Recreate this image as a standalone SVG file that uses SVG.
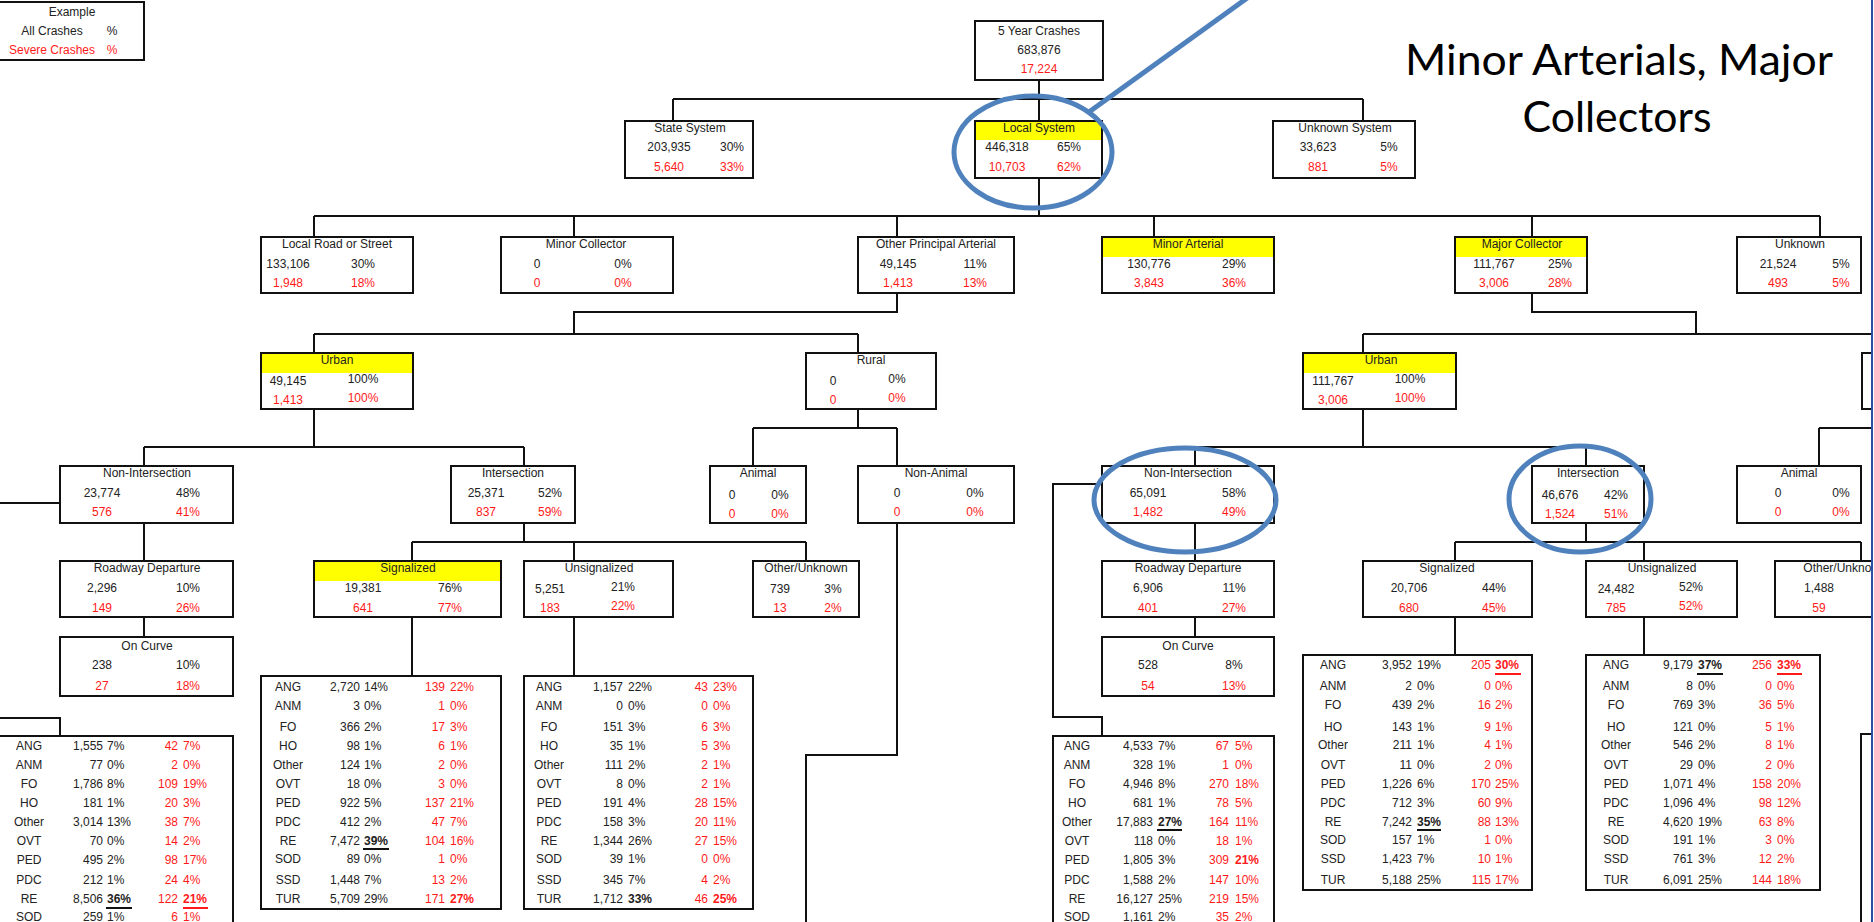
<svg xmlns="http://www.w3.org/2000/svg" width="1874" height="922" viewBox="0 0 1874 922">
<defs><clipPath id="slide"><rect x="0" y="0" width="1871" height="922"/></clipPath></defs>
<style>
.b{fill:#fff;stroke:#111;stroke-width:2}
.y{fill:#ffff00}
.t{font-family:"Liberation Sans",Arial,sans-serif;font-size:12px;fill:#222}
.m{text-anchor:middle}
.e{text-anchor:end}
.r{fill:#ff1a1a}
.k{font-weight:bold}
.c{fill:none;stroke:#111;stroke-width:2}
.u{stroke:#111;stroke-width:2}
.ur{stroke:#ff1a1a;stroke-width:2}
.blue{fill:none;stroke:#4f81bd;stroke-width:5}
.big{font-family:Lato,"Open Sans",sans-serif;font-size:42px;fill:#000;text-anchor:middle}
</style>
<rect width="1874" height="922" fill="#fff"/>
<g clip-path="url(#slide)">
<g id="connectors" class="c">
<path d="M1039,80V99 M673,99H1363 M673,99V121 M1039,99V121 M1363,99V121"/>
<path d="M1039,178V216 M314,216H1820 M314,216V237 M574,216V237 M897,216V237 M1154,216V237 M1532,216V237 M1820,216V237"/>
<path d="M897,293V312H574V334 M314,334H858 M314,334V353 M858,334V353"/>
<path d="M314,409V447 M144,447H524 M144,447V466 M524,447V466"/>
<path d="M858,409V428 M753,428H897 M753,428V466 M897,428V466"/>
<path d="M897,523V755H806V930"/>
<path d="M144,523V561 M144,617V637 M-5,503H60 M-5,718H60V736"/>
<path d="M524,523V542 M412,542H806 M412,542V561 M574,542V561 M806,542V561 M412,617V676 M574,617V676"/>
<path d="M1532,293V312H1696V334 M1363,334H1880 M1363,334V353"/>
<path d="M1363,409V447 M1195,447H1586 M1195,447V466 M1586,447V466 M1819,428H1880 M1819,428V466"/>
<path d="M1102,484H1053V717H1102V736 M1195,523V561 M1195,617V637"/>
<path d="M1586,523V542 M1455,542H1861 M1455,542V561 M1644,542V561 M1861,542V561 M1455,617V655 M1644,617V655"/>
</g>

<g id="example">
<rect class="b" x="-3" y="2" width="147" height="58"/>
<text class="t m" x="72" y="16">Example</text>
<text class="t m" x="52" y="35">All Crashes</text>
<text class="t m" x="112" y="35">%</text>
<text class="t m r" x="52" y="54">Severe Crashes</text>
<text class="t m r" x="112" y="54">%</text>
</g>

<g id="five-year">
<rect class="b" x="975" y="21" width="128" height="59"/>
<text class="t m" x="1039" y="35">5 Year Crashes</text>
<text class="t m" x="1039" y="54">683,876</text>
<text class="t m r" x="1039" y="73">17,224</text>
</g>

<g id="state-system">
<rect class="b" x="625" y="121" width="128" height="57"/>
<text class="t m" x="690" y="132">State System</text>
<text class="t m" x="669" y="151">203,935</text><text class="t m" x="732" y="151">30%</text>
<text class="t m r" x="669" y="171">5,640</text><text class="t m r" x="732" y="171">33%</text>
</g>
<g id="local-system">
<rect class="b" x="975" y="121" width="127" height="57"/>
<rect class="y" x="976" y="122" width="125" height="18"/>
<text class="t m" x="1039" y="132">Local System</text>
<text class="t m" x="1007" y="151">446,318</text><text class="t m" x="1069" y="151">65%</text>
<text class="t m r" x="1007" y="171">10,703</text><text class="t m r" x="1069" y="171">62%</text>
</g>
<g id="unknown-system">
<rect class="b" x="1273" y="121" width="142" height="57"/>
<text class="t m" x="1345" y="132">Unknown System</text>
<text class="t m" x="1318" y="151">33,623</text><text class="t m" x="1389" y="151">5%</text>
<text class="t m r" x="1318" y="171">881</text><text class="t m r" x="1389" y="171">5%</text>
</g>

<g id="local-road">
<rect class="b" x="261" y="237" width="152" height="56"/>
<text class="t m" x="337" y="248">Local Road or Street</text>
<text class="t m" x="288" y="268">133,106</text><text class="t m" x="363" y="268">30%</text>
<text class="t m r" x="288" y="287">1,948</text><text class="t m r" x="363" y="287">18%</text>
</g>
<g id="minor-collector">
<rect class="b" x="501" y="237" width="172" height="56"/>
<text class="t m" x="586" y="248">Minor Collector</text>
<text class="t m" x="537" y="268">0</text><text class="t m" x="623" y="268">0%</text>
<text class="t m r" x="537" y="287">0</text><text class="t m r" x="623" y="287">0%</text>
</g>
<g id="other-principal-arterial">
<rect class="b" x="858" y="237" width="156" height="56"/>
<text class="t m" x="936" y="248">Other Principal Arterial</text>
<text class="t m" x="898" y="268">49,145</text><text class="t m" x="975" y="268">11%</text>
<text class="t m r" x="898" y="287">1,413</text><text class="t m r" x="975" y="287">13%</text>
</g>
<g id="minor-arterial">
<rect class="b" x="1102" y="237" width="172" height="56"/>
<rect class="y" x="1103" y="238" width="170" height="19"/>
<text class="t m" x="1188" y="248">Minor Arterial</text>
<text class="t m" x="1149" y="268">130,776</text><text class="t m" x="1234" y="268">29%</text>
<text class="t m r" x="1149" y="287">3,843</text><text class="t m r" x="1234" y="287">36%</text>
</g>
<g id="major-collector">
<rect class="b" x="1455" y="237" width="132" height="56"/>
<rect class="y" x="1456" y="238" width="130" height="19"/>
<text class="t m" x="1522" y="248">Major Collector</text>
<text class="t m" x="1494" y="268">111,767</text><text class="t m" x="1560" y="268">25%</text>
<text class="t m r" x="1494" y="287">3,006</text><text class="t m r" x="1560" y="287">28%</text>
</g>
<g id="unknown">
<rect class="b" x="1737" y="237" width="124" height="56"/>
<text class="t m" x="1800" y="248">Unknown</text>
<text class="t m" x="1778" y="268">21,524</text><text class="t m" x="1841" y="268">5%</text>
<text class="t m r" x="1778" y="287">493</text><text class="t m r" x="1841" y="287">5%</text>
</g>

<g id="urban-left">
<rect class="b" x="261" y="353" width="152" height="56"/>
<rect class="y" x="262" y="354" width="150" height="19"/>
<text class="t m" x="337" y="364">Urban</text>
<text class="t m" x="288" y="385">49,145</text><text class="t m" x="363" y="383">100%</text>
<text class="t m r" x="288" y="404">1,413</text><text class="t m r" x="363" y="402">100%</text>
</g>
<g id="rural-left">
<rect class="b" x="806" y="353" width="130" height="56"/>
<text class="t m" x="871" y="364">Rural</text>
<text class="t m" x="833" y="385">0</text><text class="t m" x="897" y="383">0%</text>
<text class="t m r" x="833" y="404">0</text><text class="t m r" x="897" y="402">0%</text>
</g>
<g id="urban-right">
<rect class="b" x="1303" y="353" width="153" height="56"/>
<rect class="y" x="1304" y="354" width="151" height="19"/>
<text class="t m" x="1381" y="364">Urban</text>
<text class="t m" x="1333" y="385">111,767</text><text class="t m" x="1410" y="383">100%</text>
<text class="t m r" x="1333" y="404">3,006</text><text class="t m r" x="1410" y="402">100%</text>
</g>
<g id="rural-right">
<rect class="b" x="1862" y="353" width="150" height="56"/>
</g>

<g id="non-intersection-left">
<rect class="b" x="60" y="466" width="173" height="57"/>
<text class="t m" x="147" y="477">Non-Intersection</text>
<text class="t m" x="102" y="497">23,774</text><text class="t m" x="188" y="497">48%</text>
<text class="t m r" x="102" y="516">576</text><text class="t m r" x="188" y="516">41%</text>
</g>
<g id="intersection-left">
<rect class="b" x="451" y="466" width="124" height="57"/>
<text class="t m" x="513" y="477">Intersection</text>
<text class="t m" x="486" y="497">25,371</text><text class="t m" x="550" y="497">52%</text>
<text class="t m r" x="486" y="516">837</text><text class="t m r" x="550" y="516">59%</text>
</g>
<g id="animal-left">
<rect class="b" x="710" y="466" width="96" height="57"/>
<text class="t m" x="758" y="477">Animal</text>
<text class="t m" x="732" y="499">0</text><text class="t m" x="780" y="499">0%</text>
<text class="t m r" x="732" y="518">0</text><text class="t m r" x="780" y="518">0%</text>
</g>
<g id="non-animal">
<rect class="b" x="858" y="466" width="156" height="57"/>
<text class="t m" x="936" y="477">Non-Animal</text>
<text class="t m" x="897" y="497">0</text><text class="t m" x="975" y="497">0%</text>
<text class="t m r" x="897" y="516">0</text><text class="t m r" x="975" y="516">0%</text>
</g>
<g id="non-intersection-right">
<rect class="b" x="1102" y="466" width="172" height="57"/>
<text class="t m" x="1188" y="477">Non-Intersection</text>
<text class="t m" x="1148" y="497">65,091</text><text class="t m" x="1234" y="497">58%</text>
<text class="t m r" x="1148" y="516">1,482</text><text class="t m r" x="1234" y="516">49%</text>
</g>
<g id="intersection-right">
<rect class="b" x="1532" y="466" width="112" height="57"/>
<text class="t m" x="1588" y="477">Intersection</text>
<text class="t m" x="1560" y="499">46,676</text><text class="t m" x="1616" y="499">42%</text>
<text class="t m r" x="1560" y="518">1,524</text><text class="t m r" x="1616" y="518">51%</text>
</g>
<g id="animal-right">
<rect class="b" x="1737" y="466" width="124" height="57"/>
<text class="t m" x="1799" y="477">Animal</text>
<text class="t m" x="1778" y="497">0</text><text class="t m" x="1841" y="497">0%</text>
<text class="t m r" x="1778" y="516">0</text><text class="t m r" x="1841" y="516">0%</text>
</g>

<g id="roadway-departure-left">
<rect class="b" x="60" y="561" width="173" height="56"/>
<text class="t m" x="147" y="572">Roadway Departure</text>
<text class="t m" x="102" y="592">2,296</text><text class="t m" x="188" y="592">10%</text>
<text class="t m r" x="102" y="612">149</text><text class="t m r" x="188" y="612">26%</text>
</g>
<g id="signalized-left">
<rect class="b" x="314" y="561" width="187" height="56"/>
<rect class="y" x="315" y="562" width="185" height="19"/>
<text class="t m" x="408" y="572">Signalized</text>
<text class="t m" x="363" y="592">19,381</text><text class="t m" x="450" y="592">76%</text>
<text class="t m r" x="363" y="612">641</text><text class="t m r" x="450" y="612">77%</text>
</g>
<g id="unsignalized-left">
<rect class="b" x="524" y="561" width="149" height="56"/>
<text class="t m" x="599" y="572">Unsignalized</text>
<text class="t m" x="550" y="593">5,251</text><text class="t m" x="623" y="591">21%</text>
<text class="t m r" x="550" y="612">183</text><text class="t m r" x="623" y="610">22%</text>
</g>
<g id="other-unknown-left">
<rect class="b" x="753" y="561" width="106" height="56"/>
<text class="t m" x="806" y="572">Other/Unknown</text>
<text class="t m" x="780" y="593">739</text><text class="t m" x="833" y="593">3%</text>
<text class="t m r" x="780" y="612">13</text><text class="t m r" x="833" y="612">2%</text>
</g>
<g id="roadway-departure-right">
<rect class="b" x="1102" y="561" width="172" height="56"/>
<text class="t m" x="1188" y="572">Roadway Departure</text>
<text class="t m" x="1148" y="592">6,906</text><text class="t m" x="1234" y="592">11%</text>
<text class="t m r" x="1148" y="612">401</text><text class="t m r" x="1234" y="612">27%</text>
</g>
<g id="signalized-right">
<rect class="b" x="1363" y="561" width="169" height="56"/>
<text class="t m" x="1447" y="572">Signalized</text>
<text class="t m" x="1409" y="592">20,706</text><text class="t m" x="1494" y="592">44%</text>
<text class="t m r" x="1409" y="612">680</text><text class="t m r" x="1494" y="612">45%</text>
</g>
<g id="unsignalized-right">
<rect class="b" x="1586" y="561" width="151" height="56"/>
<text class="t m" x="1662" y="572">Unsignalized</text>
<text class="t m" x="1616" y="593">24,482</text><text class="t m" x="1691" y="591">52%</text>
<text class="t m r" x="1616" y="612">785</text><text class="t m r" x="1691" y="610">52%</text>
</g>
<g id="other-unknown-right">
<rect class="b" x="1775" y="561" width="170" height="56"/>
<text class="t m" x="1845" y="572">Other/Unknown</text>
<text class="t m" x="1819" y="592">1,488</text>
<text class="t m r" x="1819" y="612">59</text>
</g>

<g id="on-curve-left">
<rect class="b" x="60" y="637" width="173" height="59"/>
<text class="t m" x="147" y="650">On Curve</text>
<text class="t m" x="102" y="669">238</text><text class="t m" x="188" y="669">10%</text>
<text class="t m r" x="102" y="690">27</text><text class="t m r" x="188" y="690">18%</text>
</g>
<g id="on-curve-right">
<rect class="b" x="1102" y="637" width="172" height="59"/>
<text class="t m" x="1188" y="650">On Curve</text>
<text class="t m" x="1148" y="669">528</text><text class="t m" x="1234" y="669">8%</text>
<text class="t m r" x="1148" y="690">54</text><text class="t m r" x="1234" y="690">13%</text>
</g>

<g id="table-left">
<rect class="b" x="-10" y="736" width="243" height="200"/>
<g class="t">
<text class="m" x="29" y="750">ANG</text><text class="e" x="103" y="750">1,555</text><text x="107" y="750">7%</text><text class="e r" x="178" y="750">42</text><text class="r" x="183" y="750">7%</text>
<text class="m" x="29" y="769">ANM</text><text class="e" x="103" y="769">77</text><text x="107" y="769">0%</text><text class="e r" x="178" y="769">2</text><text class="r" x="183" y="769">0%</text>
<text class="m" x="29" y="788">FO</text><text class="e" x="103" y="788">1,786</text><text x="107" y="788">8%</text><text class="e r" x="178" y="788">109</text><text class="r" x="183" y="788">19%</text>
<text class="m" x="29" y="807">HO</text><text class="e" x="103" y="807">181</text><text x="107" y="807">1%</text><text class="e r" x="178" y="807">20</text><text class="r" x="183" y="807">3%</text>
<text class="m" x="29" y="826">Other</text><text class="e" x="103" y="826">3,014</text><text x="107" y="826">13%</text><text class="e r" x="178" y="826">38</text><text class="r" x="183" y="826">7%</text>
<text class="m" x="29" y="845">OVT</text><text class="e" x="103" y="845">70</text><text x="107" y="845">0%</text><text class="e r" x="178" y="845">14</text><text class="r" x="183" y="845">2%</text>
<text class="m" x="29" y="864">PED</text><text class="e" x="103" y="864">495</text><text x="107" y="864">2%</text><text class="e r" x="178" y="864">98</text><text class="r" x="183" y="864">17%</text>
<text class="m" x="29" y="884">PDC</text><text class="e" x="103" y="884">212</text><text x="107" y="884">1%</text><text class="e r" x="178" y="884">24</text><text class="r" x="183" y="884">4%</text>
<text class="m" x="29" y="903">RE</text><text class="e" x="103" y="903">8,506</text><text class="k" x="107" y="903">36%</text><text class="e r" x="178" y="903">122</text><text class="r k" x="183" y="903">21%</text>
<text class="m" x="29" y="921">SOD</text><text class="e" x="103" y="921">259</text><text x="107" y="921">1%</text><text class="e r" x="178" y="921">6</text><text class="r" x="183" y="921">1%</text>
</g>
<line class="u" x1="106" y1="908" x2="132" y2="908"/><line class="ur" x1="183" y1="908" x2="208" y2="908"/>
</g>

<g id="table-signalized-left">
<rect class="b" x="261" y="676" width="240" height="233"/>
<g class="t">
<text class="m" x="288" y="691">ANG</text><text class="e" x="360" y="691">2,720</text><text x="364" y="691">14%</text><text class="e r" x="445" y="691">139</text><text class="r" x="450" y="691">22%</text>
<text class="m" x="288" y="710">ANM</text><text class="e" x="360" y="710">3</text><text x="364" y="710">0%</text><text class="e r" x="445" y="710">1</text><text class="r" x="450" y="710">0%</text>
<text class="m" x="288" y="731">FO</text><text class="e" x="360" y="731">366</text><text x="364" y="731">2%</text><text class="e r" x="445" y="731">17</text><text class="r" x="450" y="731">3%</text>
<text class="m" x="288" y="750">HO</text><text class="e" x="360" y="750">98</text><text x="364" y="750">1%</text><text class="e r" x="445" y="750">6</text><text class="r" x="450" y="750">1%</text>
<text class="m" x="288" y="769">Other</text><text class="e" x="360" y="769">124</text><text x="364" y="769">1%</text><text class="e r" x="445" y="769">2</text><text class="r" x="450" y="769">0%</text>
<text class="m" x="288" y="788">OVT</text><text class="e" x="360" y="788">18</text><text x="364" y="788">0%</text><text class="e r" x="445" y="788">3</text><text class="r" x="450" y="788">0%</text>
<text class="m" x="288" y="807">PED</text><text class="e" x="360" y="807">922</text><text x="364" y="807">5%</text><text class="e r" x="445" y="807">137</text><text class="r" x="450" y="807">21%</text>
<text class="m" x="288" y="826">PDC</text><text class="e" x="360" y="826">412</text><text x="364" y="826">2%</text><text class="e r" x="445" y="826">47</text><text class="r" x="450" y="826">7%</text>
<text class="m" x="288" y="845">RE</text><text class="e" x="360" y="845">7,472</text><text class="k" x="364" y="845">39%</text><text class="e r" x="445" y="845">104</text><text class="r" x="450" y="845">16%</text>
<text class="m" x="288" y="863">SOD</text><text class="e" x="360" y="863">89</text><text x="364" y="863">0%</text><text class="e r" x="445" y="863">1</text><text class="r" x="450" y="863">0%</text>
<text class="m" x="288" y="884">SSD</text><text class="e" x="360" y="884">1,448</text><text x="364" y="884">7%</text><text class="e r" x="445" y="884">13</text><text class="r" x="450" y="884">2%</text>
<text class="m" x="288" y="903">TUR</text><text class="e" x="360" y="903">5,709</text><text x="364" y="903">29%</text><text class="e r" x="445" y="903">171</text><text class="r k" x="450" y="903">27%</text>
</g>
<line class="u" x1="363" y1="849" x2="389" y2="849"/>
</g>

<g id="table-unsignalized-left">
<rect class="b" x="524" y="676" width="229" height="233"/>
<g class="t">
<text class="m" x="549" y="691">ANG</text><text class="e" x="623" y="691">1,157</text><text x="628" y="691">22%</text><text class="e r" x="708" y="691">43</text><text class="r" x="713" y="691">23%</text>
<text class="m" x="549" y="710">ANM</text><text class="e" x="623" y="710">0</text><text x="628" y="710">0%</text><text class="e r" x="708" y="710">0</text><text class="r" x="713" y="710">0%</text>
<text class="m" x="549" y="731">FO</text><text class="e" x="623" y="731">151</text><text x="628" y="731">3%</text><text class="e r" x="708" y="731">6</text><text class="r" x="713" y="731">3%</text>
<text class="m" x="549" y="750">HO</text><text class="e" x="623" y="750">35</text><text x="628" y="750">1%</text><text class="e r" x="708" y="750">5</text><text class="r" x="713" y="750">3%</text>
<text class="m" x="549" y="769">Other</text><text class="e" x="623" y="769">111</text><text x="628" y="769">2%</text><text class="e r" x="708" y="769">2</text><text class="r" x="713" y="769">1%</text>
<text class="m" x="549" y="788">OVT</text><text class="e" x="623" y="788">8</text><text x="628" y="788">0%</text><text class="e r" x="708" y="788">2</text><text class="r" x="713" y="788">1%</text>
<text class="m" x="549" y="807">PED</text><text class="e" x="623" y="807">191</text><text x="628" y="807">4%</text><text class="e r" x="708" y="807">28</text><text class="r" x="713" y="807">15%</text>
<text class="m" x="549" y="826">PDC</text><text class="e" x="623" y="826">158</text><text x="628" y="826">3%</text><text class="e r" x="708" y="826">20</text><text class="r" x="713" y="826">11%</text>
<text class="m" x="549" y="845">RE</text><text class="e" x="623" y="845">1,344</text><text x="628" y="845">26%</text><text class="e r" x="708" y="845">27</text><text class="r" x="713" y="845">15%</text>
<text class="m" x="549" y="863">SOD</text><text class="e" x="623" y="863">39</text><text x="628" y="863">1%</text><text class="e r" x="708" y="863">0</text><text class="r" x="713" y="863">0%</text>
<text class="m" x="549" y="884">SSD</text><text class="e" x="623" y="884">345</text><text x="628" y="884">7%</text><text class="e r" x="708" y="884">4</text><text class="r" x="713" y="884">2%</text>
<text class="m" x="549" y="903">TUR</text><text class="e" x="623" y="903">1,712</text><text class="k" x="628" y="903">33%</text><text class="e r" x="708" y="903">46</text><text class="r k" x="713" y="903">25%</text>
</g>
</g>

<g id="table-non-intersection-right">
<rect class="b" x="1053" y="736" width="221" height="200"/>
<g class="t">
<text class="m" x="1077" y="750">ANG</text><text class="e" x="1153" y="750">4,533</text><text x="1158" y="750">7%</text><text class="e r" x="1229" y="750">67</text><text class="r" x="1235" y="750">5%</text>
<text class="m" x="1077" y="769">ANM</text><text class="e" x="1153" y="769">328</text><text x="1158" y="769">1%</text><text class="e r" x="1229" y="769">1</text><text class="r" x="1235" y="769">0%</text>
<text class="m" x="1077" y="788">FO</text><text class="e" x="1153" y="788">4,946</text><text x="1158" y="788">8%</text><text class="e r" x="1229" y="788">270</text><text class="r" x="1235" y="788">18%</text>
<text class="m" x="1077" y="807">HO</text><text class="e" x="1153" y="807">681</text><text x="1158" y="807">1%</text><text class="e r" x="1229" y="807">78</text><text class="r" x="1235" y="807">5%</text>
<text class="m" x="1077" y="826">Other</text><text class="e" x="1153" y="826">17,883</text><text class="k" x="1158" y="826">27%</text><text class="e r" x="1229" y="826">164</text><text class="r" x="1235" y="826">11%</text>
<text class="m" x="1077" y="845">OVT</text><text class="e" x="1153" y="845">118</text><text x="1158" y="845">0%</text><text class="e r" x="1229" y="845">18</text><text class="r" x="1235" y="845">1%</text>
<text class="m" x="1077" y="864">PED</text><text class="e" x="1153" y="864">1,805</text><text x="1158" y="864">3%</text><text class="e r" x="1229" y="864">309</text><text class="r k" x="1235" y="864">21%</text>
<text class="m" x="1077" y="884">PDC</text><text class="e" x="1153" y="884">1,588</text><text x="1158" y="884">2%</text><text class="e r" x="1229" y="884">147</text><text class="r" x="1235" y="884">10%</text>
<text class="m" x="1077" y="903">RE</text><text class="e" x="1153" y="903">16,127</text><text x="1158" y="903">25%</text><text class="e r" x="1229" y="903">219</text><text class="r" x="1235" y="903">15%</text>
<text class="m" x="1077" y="921">SOD</text><text class="e" x="1153" y="921">1,161</text><text x="1158" y="921">2%</text><text class="e r" x="1229" y="921">35</text><text class="r" x="1235" y="921">2%</text>
</g>
<line class="u" x1="1157" y1="830" x2="1182" y2="830"/>
</g>

<g id="table-signalized-right">
<rect class="b" x="1303" y="655" width="229" height="235"/>
<g class="t">
<text class="m" x="1333" y="669">ANG</text><text class="e" x="1412" y="669">3,952</text><text x="1417" y="669">19%</text><text class="e r" x="1491" y="669">205</text><text class="r k" x="1495" y="669">30%</text>
<text class="m" x="1333" y="690">ANM</text><text class="e" x="1412" y="690">2</text><text x="1417" y="690">0%</text><text class="e r" x="1491" y="690">0</text><text class="r" x="1495" y="690">0%</text>
<text class="m" x="1333" y="709">FO</text><text class="e" x="1412" y="709">439</text><text x="1417" y="709">2%</text><text class="e r" x="1491" y="709">16</text><text class="r" x="1495" y="709">2%</text>
<text class="m" x="1333" y="731">HO</text><text class="e" x="1412" y="731">143</text><text x="1417" y="731">1%</text><text class="e r" x="1491" y="731">9</text><text class="r" x="1495" y="731">1%</text>
<text class="m" x="1333" y="749">Other</text><text class="e" x="1412" y="749">211</text><text x="1417" y="749">1%</text><text class="e r" x="1491" y="749">4</text><text class="r" x="1495" y="749">1%</text>
<text class="m" x="1333" y="769">OVT</text><text class="e" x="1412" y="769">11</text><text x="1417" y="769">0%</text><text class="e r" x="1491" y="769">2</text><text class="r" x="1495" y="769">0%</text>
<text class="m" x="1333" y="788">PED</text><text class="e" x="1412" y="788">1,226</text><text x="1417" y="788">6%</text><text class="e r" x="1491" y="788">170</text><text class="r" x="1495" y="788">25%</text>
<text class="m" x="1333" y="807">PDC</text><text class="e" x="1412" y="807">712</text><text x="1417" y="807">3%</text><text class="e r" x="1491" y="807">60</text><text class="r" x="1495" y="807">9%</text>
<text class="m" x="1333" y="826">RE</text><text class="e" x="1412" y="826">7,242</text><text class="k" x="1417" y="826">35%</text><text class="e r" x="1491" y="826">88</text><text class="r" x="1495" y="826">13%</text>
<text class="m" x="1333" y="844">SOD</text><text class="e" x="1412" y="844">157</text><text x="1417" y="844">1%</text><text class="e r" x="1491" y="844">1</text><text class="r" x="1495" y="844">0%</text>
<text class="m" x="1333" y="863">SSD</text><text class="e" x="1412" y="863">1,423</text><text x="1417" y="863">7%</text><text class="e r" x="1491" y="863">10</text><text class="r" x="1495" y="863">1%</text>
<text class="m" x="1333" y="884">TUR</text><text class="e" x="1412" y="884">5,188</text><text x="1417" y="884">25%</text><text class="e r" x="1491" y="884">115</text><text class="r" x="1495" y="884">17%</text>
</g>
<line class="u" x1="1417" y1="830" x2="1441" y2="830"/><line class="ur" x1="1495" y1="674" x2="1521" y2="674"/>
</g>

<g id="table-unsignalized-right">
<rect class="b" x="1586" y="655" width="234" height="235"/>
<g class="t">
<text class="m" x="1616" y="669">ANG</text><text class="e" x="1693" y="669">9,179</text><text class="k" x="1698" y="669">37%</text><text class="e r" x="1772" y="669">256</text><text class="r k" x="1777" y="669">33%</text>
<text class="m" x="1616" y="690">ANM</text><text class="e" x="1693" y="690">8</text><text x="1698" y="690">0%</text><text class="e r" x="1772" y="690">0</text><text class="r" x="1777" y="690">0%</text>
<text class="m" x="1616" y="709">FO</text><text class="e" x="1693" y="709">769</text><text x="1698" y="709">3%</text><text class="e r" x="1772" y="709">36</text><text class="r" x="1777" y="709">5%</text>
<text class="m" x="1616" y="731">HO</text><text class="e" x="1693" y="731">121</text><text x="1698" y="731">0%</text><text class="e r" x="1772" y="731">5</text><text class="r" x="1777" y="731">1%</text>
<text class="m" x="1616" y="749">Other</text><text class="e" x="1693" y="749">546</text><text x="1698" y="749">2%</text><text class="e r" x="1772" y="749">8</text><text class="r" x="1777" y="749">1%</text>
<text class="m" x="1616" y="769">OVT</text><text class="e" x="1693" y="769">29</text><text x="1698" y="769">0%</text><text class="e r" x="1772" y="769">2</text><text class="r" x="1777" y="769">0%</text>
<text class="m" x="1616" y="788">PED</text><text class="e" x="1693" y="788">1,071</text><text x="1698" y="788">4%</text><text class="e r" x="1772" y="788">158</text><text class="r" x="1777" y="788">20%</text>
<text class="m" x="1616" y="807">PDC</text><text class="e" x="1693" y="807">1,096</text><text x="1698" y="807">4%</text><text class="e r" x="1772" y="807">98</text><text class="r" x="1777" y="807">12%</text>
<text class="m" x="1616" y="826">RE</text><text class="e" x="1693" y="826">4,620</text><text x="1698" y="826">19%</text><text class="e r" x="1772" y="826">63</text><text class="r" x="1777" y="826">8%</text>
<text class="m" x="1616" y="844">SOD</text><text class="e" x="1693" y="844">191</text><text x="1698" y="844">1%</text><text class="e r" x="1772" y="844">3</text><text class="r" x="1777" y="844">0%</text>
<text class="m" x="1616" y="863">SSD</text><text class="e" x="1693" y="863">761</text><text x="1698" y="863">3%</text><text class="e r" x="1772" y="863">12</text><text class="r" x="1777" y="863">2%</text>
<text class="m" x="1616" y="884">TUR</text><text class="e" x="1693" y="884">6,091</text><text x="1698" y="884">25%</text><text class="e r" x="1772" y="884">144</text><text class="r" x="1777" y="884">18%</text>
</g>
<line class="u" x1="1697" y1="674" x2="1723" y2="674"/><line class="ur" x1="1777" y1="674" x2="1802" y2="674"/>
</g>

<g id="table-far-right">
<rect class="b" x="1861" y="734" width="200" height="220"/>
</g>

<g id="annotations">
<line class="blue" x1="1250" y1="-4" x2="1089" y2="112"/>
<ellipse class="blue" cx="1033" cy="152" rx="79" ry="56"/>
<ellipse class="blue" cx="1185" cy="500" rx="91" ry="52"/>
<ellipse class="blue" cx="1580" cy="499" rx="71" ry="53"/>
<text class="big" x="1619" y="75" textLength="428" lengthAdjust="spacingAndGlyphs">Minor Arterials, Major</text>
<text class="big" x="1617" y="132" textLength="189" lengthAdjust="spacingAndGlyphs">Collectors</text>
</g>
</g>
<line x1="1872" y1="0" x2="1872" y2="922" stroke="#2e4fa6" stroke-width="2"/>
</svg>
